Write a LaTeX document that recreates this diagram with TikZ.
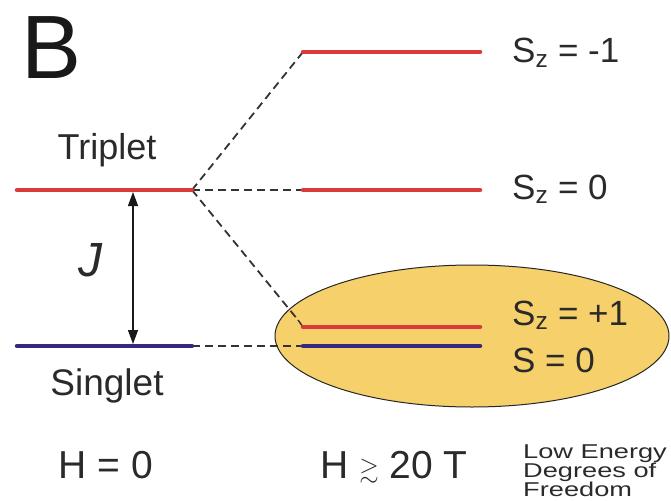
\documentclass[tikz,border=0pt]{standalone}
\usepackage{fontspec}
\setmainfont{Liberation Sans}
\usepackage{amssymb}
\usetikzlibrary{arrows.meta,shapes.geometric}
\definecolor{lvred}{HTML}{DC3A3A}
\definecolor{lvblue}{HTML}{33297F}
\definecolor{ovalfill}{HTML}{F6D06A}
\definecolor{txt}{HTML}{2A2A2A}
\newcommand{\fs}[1]{\fontsize{#1}{#1}\selectfont}
\begin{document}
\begin{tikzpicture}[x=1pt,y=-1pt,
  level/.style={line width=4.5pt,line cap=round},
  tlevel/.style={level,lvred},
  slevel/.style={level,lvblue},
  dline/.style={line width=1.8pt,dash pattern=on 8pt off 5pt,black!80},
  lbl/.style={text=txt,inner sep=0pt,anchor=base},
  rlbl/.style={text=txt,inner sep=0pt,anchor=base west},
  oval/.style={draw=black!85,line width=1pt,fill=ovalfill,ellipse,inner sep=0pt}]
\useasboundingbox (0,0) rectangle (671,500);
% oval
\node[oval,minimum width=394pt,minimum height=142pt] (oval) at (472,336) {};
% level end points
\coordinate (t1) at (17,190);  \coordinate (t2) at (192,190);
\coordinate (s1) at (17,346);  \coordinate (s2) at (192,346);
\coordinate (m1a) at (303,52);  \coordinate (m1b) at (480,52);
\coordinate (z0a) at (303,190); \coordinate (z0b) at (480,190);
\coordinate (p1a) at (303,327); \coordinate (p1b) at (480,327);
\coordinate (s0a) at (303,346); \coordinate (s0b) at (480,346);
\coordinate (kink) at (298,320);
% dashed connectors
\draw[dline] (t2) -- (m1a);
\draw[dline] (t2) -- (z0a);
\draw[dline] (t2) -- (kink);
\draw[line width=1.5pt,black!80] (kink) -- (p1a);
\draw[dline] (s2) -- (s0a);
% levels
\draw[tlevel] (t1) -- (t2);
\draw[slevel] (s1) -- (s2);
\draw[tlevel] (m1a) -- (m1b);
\draw[tlevel] (z0a) -- (z0b);
\draw[tlevel] (p1a) -- (p1b);
\draw[slevel] (s0a) -- (s0b);
% J arrow
\coordinate (jtop) at (133,192);
\coordinate (jbot) at (133,344);
\draw[line width=1.2pt,black!90,{Triangle[length=14pt,width=10pt]}-{Triangle[length=14pt,width=10pt]}] (jtop) -- (jbot);
% labels
\node[text=black!90,inner sep=0pt,font=\fs{90}] (B) at (52,48) {B};
\node[lbl,font=\fs{36}] (trip) at (107,159) {Triplet};
\node[lbl,font=\fs{37}] (sing) at (107,395) {Singlet};
\node[text=txt,inner sep=0pt,font=\fs{48}\itshape] (J) at (90,260) {J};
\node[lbl,font=\fs{39}] (h0) at (106,478) {H = 0};
\node[lbl,font=\fs{39}] (h20) at (394,478) {H {\fs{25}\raisebox{1pt}{$\gtrsim$}} 20 T};
\node[rlbl,font=\fs{35}] (lm1) at (512,63) {S\textsubscript{z} = -1};
\node[rlbl,font=\fs{35}] (l0) at (512,199) {S\textsubscript{z} = 0};
\node[rlbl,font=\fs{35}] (lp1) at (512,325) {S\textsubscript{z} = +1};
\node[rlbl,font=\fs{35}] (ls0) at (512,372) {S = 0};
\node[rlbl,font=\fs{20}] (le1) at (523,458) {\scalebox{1.36}[1]{Low Energy}};
\node[rlbl,font=\fs{20}] (le2) at (523,477) {\scalebox{1.36}[1]{Degrees of}};
\node[rlbl,font=\fs{20}] (le3) at (523,496) {\scalebox{1.36}[1]{Freedom}};
\end{tikzpicture}
\end{document}
